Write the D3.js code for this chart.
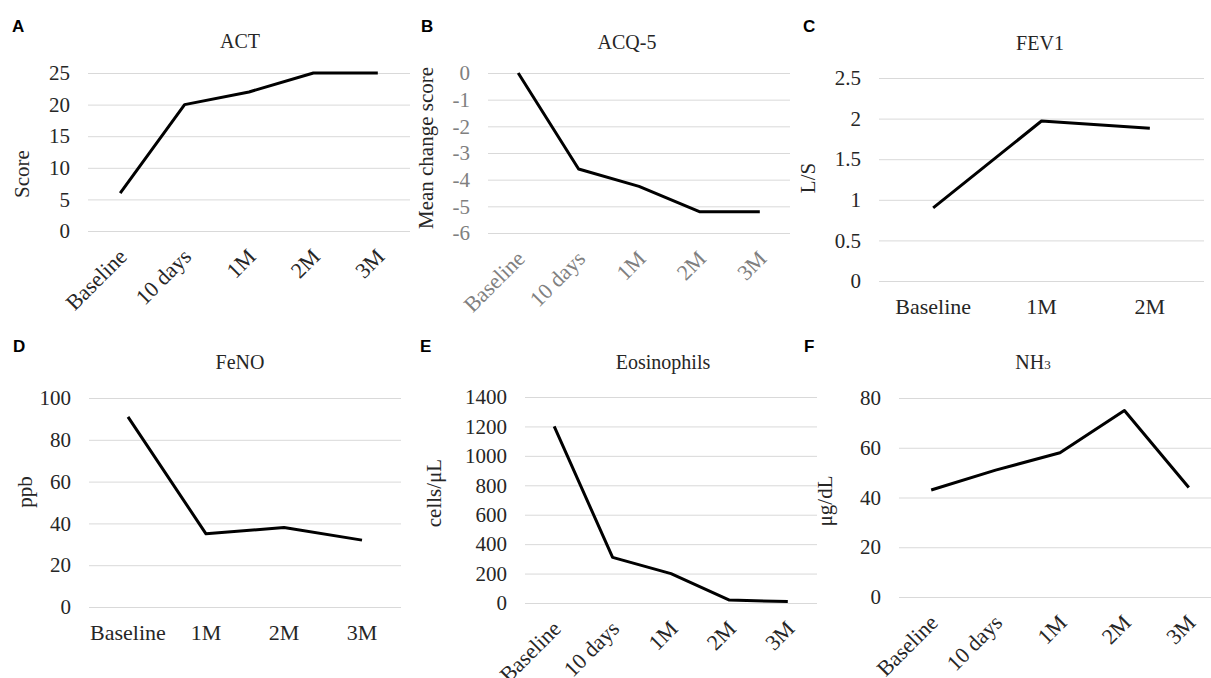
<!DOCTYPE html>
<html>
<head>
<meta charset="utf-8">
<script src="https://cdn.jsdelivr.net/npm/d3@7"></script>
<style>
  body { margin: 0; background: #fff; }
</style>
</head>
<body>
<div id="app"></div>
<script>
// data
let fiveTimes = ['Baseline', '10 days', '1M', '2M', '3M'];
let fevTimes = ['Baseline', '1M', '2M'];
let fenoTimes = ['Baseline', '1M', '2M', '3M'];

let actValues = [6, 20, 22, 25, 25];
let acqValues = [0, -3.6, -4.25, -5.2, -5.2];
let fevValues = [0.9, 1.97, 1.88];
let fenoValues = [91, 35, 38, 32];
let eosValues = [1200, 310, 200, 20, 10];
let nh3Values = [43, 51, 58, 75, 44];

let actTicks = [0, 5, 10, 15, 20, 25];
let acqTicks = [0, -1, -2, -3, -4, -5, -6];
let fevTicks = [0, 0.5, 1, 1.5, 2, 2.5];
let fenoTicks = [0, 20, 40, 60, 80, 100];
let eosTicks = [0, 200, 400, 600, 800, 1000, 1200, 1400];
let nh3Ticks = [0, 20, 40, 60, 80];

let width = 1211;
let height = 678;
let serif = '"Times New Roman", "Liberation Serif", "DejaVu Serif", serif';

// panel boxes: plot left/right, top gridline, bottom gridline
let panels = [
  { letter: 'A', lx: 12, ly: 32, title: 'ACT', tx: 240, ty: 48,
    cats: fiveTimes, vals: actValues, ticks: actTicks,
    ylab: 'Score', yx: 22, yy: 174,
    left: 88, right: 410, top: 73, bottom: 231, rotate: true, ink: '#262626' },
  { letter: 'B', lx: 421, ly: 32, title: 'ACQ-5', tx: 627, ty: 49,
    cats: fiveTimes, vals: acqValues, ticks: acqTicks,
    ylab: 'Mean change score', yx: 426, yy: 148,
    left: 488, right: 790, top: 73, bottom: 233, rotate: true, ink: '#808080' },
  { letter: 'C', lx: 803, ly: 32, title: 'FEV1', tx: 1040, ty: 50,
    cats: fevTimes, vals: fevValues, ticks: fevTicks,
    ylab: 'L/S', yx: 808, yy: 178,
    left: 879, right: 1204, top: 78, bottom: 281, rotate: false, ink: '#262626' },
  { letter: 'D', lx: 13, ly: 352, title: 'FeNO', tx: 240, ty: 369,
    cats: fenoTimes, vals: fenoValues, ticks: fenoTicks,
    ylab: 'ppb', yx: 25, yy: 492,
    left: 89, right: 401, top: 398, bottom: 607, rotate: false, ink: '#262626' },
  { letter: 'E', lx: 420, ly: 352, title: 'Eosinophils', tx: 663, ty: 369,
    cats: fiveTimes, vals: eosValues, ticks: eosTicks,
    ylab: 'cells/\u03bcL', yx: 434, yy: 493,
    left: 525, right: 817, top: 397, bottom: 603, rotate: true, ink: '#262626' },
  { letter: 'F', lx: 804, ly: 352, title: 'NH3', tx: 1033, ty: 369,
    cats: fiveTimes, vals: nh3Values, ticks: nh3Ticks,
    ylab: '\u03bcg/dL', yx: 825, yy: 501,
    left: 899, right: 1221, top: 398, bottom: 597, rotate: true, ink: '#262626' }
];

let svg = d3.select('#app').append('svg')
    .attr('width', width)
    .attr('height', height)
    .attr('font-family', serif)
    .style('background', '#fff');

panels.forEach(function(p) {
  let g = svg.append('g');

  let xScale = d3.scaleBand()
                 .domain(p.cats)
                 .range([p.left, p.right]);

  let yScale = d3.scaleLinear()
                 .domain(d3.extent(p.ticks))
                 .range([p.bottom, p.top]);

  // gridlines + tick labels (plain hyphen for negatives, like the original)
  let yAxis = g.append('g')
      .attr('transform', 'translate(' + p.left + ',0)')
      .call(d3.axisLeft(yScale)
              .tickValues(p.ticks)
              .tickSize(-(p.right - p.left))
              .tickPadding(18)
              .tickFormat(function(d) { return String(d); }));
  yAxis.attr('font-family', serif).attr('font-size', 21);
  yAxis.select('.domain').remove();
  yAxis.selectAll('line').attr('stroke', '#d9d9d9').attr('stroke-width', 1);
  yAxis.selectAll('text').attr('fill', p.ink);

  // category labels
  let xl = g.selectAll('.xl')
      .data(p.cats)
      .enter()
      .append('text')
        .attr('fill', p.ink)
        .attr('font-family', serif)
        .attr('font-size', 22)
        .text(function(d) { return d; });

  if (p.rotate) {
    xl.attr('text-anchor', 'end')
      .attr('transform', function(d) {
        let x = xScale(d) + xScale.bandwidth() / 2 + 8;
        return 'translate(' + x + ',' + (p.bottom + 27) + ') rotate(-45)';
      });
  } else {
    xl.attr('text-anchor', 'middle')
      .attr('x', function(d) { return xScale(d) + xScale.bandwidth() / 2; })
      .attr('y', p.bottom + 33);
  }

  // the line
  let line = d3.line()
      .x(function(d, i) { return xScale(p.cats[i]) + xScale.bandwidth() / 2; })
      .y(function(d) { return yScale(d); });

  g.append('path')
      .datum(p.vals)
      .attr('d', line)
      .attr('fill', 'none')
      .attr('stroke', '#000')
      .attr('stroke-width', 3)
      .attr('stroke-linejoin', 'round');

  // title
  let t = g.append('text')
      .attr('x', p.tx)
      .attr('y', p.ty)
      .attr('text-anchor', 'middle')
      .attr('fill', '#262626')
      .attr('font-family', serif)
      .attr('font-size', 20);
  if (p.title === 'NH3') {
    t.append('tspan').text('NH');
    t.append('tspan').attr('font-size', 13).text('3');
  } else {
    t.text(p.title);
  }

  // y axis title
  g.append('text')
      .attr('transform', 'translate(' + p.yx + ',' + p.yy + ') rotate(-90)')
      .attr('text-anchor', 'middle')
      .attr('dy', '0.35em')
      .attr('fill', '#262626')
      .attr('font-family', serif)
      .attr('font-size', 21)
      .text(p.ylab);

  // panel letter
  g.append('text')
      .attr('x', p.lx)
      .attr('y', p.ly)
      .attr('fill', '#000')
      .attr('font-family', '"Liberation Sans", Arial, sans-serif')
      .attr('font-weight', 'bold')
      .attr('font-size', 17)
      .text(p.letter);
});
</script>
</body>
</html>
